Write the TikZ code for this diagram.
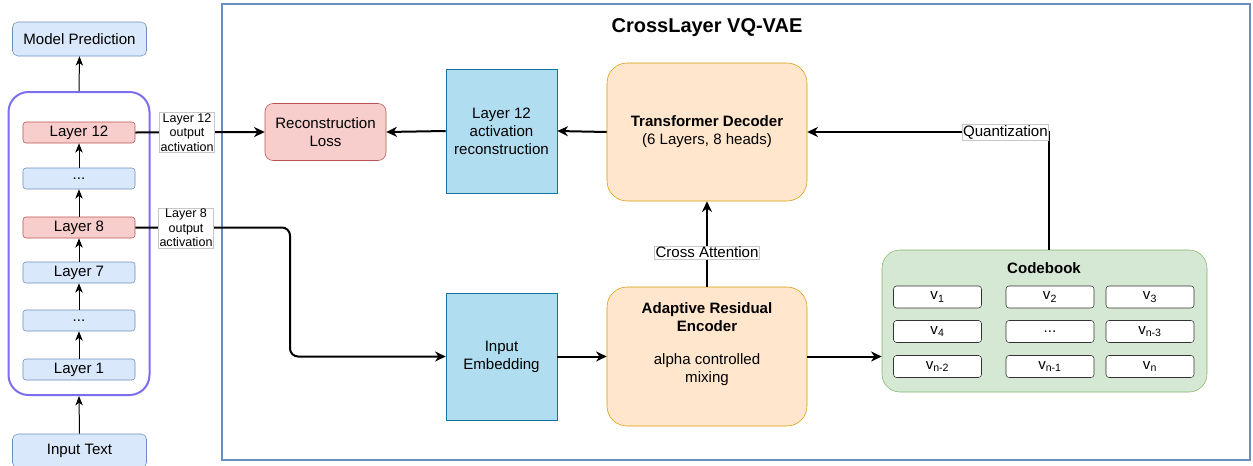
\documentclass[tikz,border=0pt]{standalone}
\usepackage{fontspec}
\setmainfont{Liberation Sans}
\usetikzlibrary{arrows.meta}

\definecolor{bluefill}{HTML}{DAE8FC}
\definecolor{blueline}{HTML}{6C8EBF}
\definecolor{redfill}{HTML}{F8CECC}
\definecolor{redline}{HTML}{B85450}
\definecolor{cyanfill}{HTML}{B1DDF0}
\definecolor{cyanline}{HTML}{10739E}
\definecolor{orangefill}{HTML}{FFE6CC}
\definecolor{orangeline}{HTML}{D79B00}
\definecolor{greenfill}{HTML}{D5E8D4}
\definecolor{greenline}{HTML}{82B366}
\definecolor{stackline}{HTML}{7B6FF0}

\begin{document}
\begin{tikzpicture}[x=0.75pt, y=-0.75pt, font=\fontsize{11.3}{13.5}\selectfont]

	\tikzstyle{layer}=[draw=blueline, fill=bluefill, rounded corners=2.25pt, minimum width=84pt, minimum height=15.75pt, inner sep=0pt]
	\tikzstyle{hot}=[layer, draw=redline, fill=redfill]
	\tikzstyle{io}=[layer, minimum width=100.5pt, minimum height=25.5pt, rounded corners=4pt]
	\tikzstyle{block}=[draw=cyanline, fill=cyanfill, align=center, inner sep=0pt, minimum width=83.25pt]
	\tikzstyle{core}=[draw=orangeline, fill=orangefill, rounded corners=15pt, inner sep=0pt, minimum width=150pt]
	\tikzstyle{cell}=[draw=black!80, fill=white, rounded corners=2.25pt, minimum width=66pt, minimum height=16.5pt, inner sep=0pt]
	\tikzstyle{tag}=[draw=black!22, fill=white, align=center, inner sep=0.8pt, line width=0.4pt]
	\tikzstyle{small}=[tag, font=\fontsize{9.4}{10.9}\selectfont]
	\tikzstyle{flow}=[-{Stealth[length=8pt, width=7.5pt, inset=2.5pt]}, line width=1.5pt]
	\tikzstyle{lift}=[-{Stealth[length=7pt, width=5.5pt, inset=2pt]}, line width=0.75pt]

	\useasboundingbox (0,0) rectangle (1253,465);

	\coordinate (vqvae) at (736, 232);
	\coordinate (title) at (707, 28);

	\coordinate (mp) at (79.5, 39); % LLM SIDE
	\coordinate (stack) at (79, 243.5); % LLM SIDE
	\coordinate (it) at (79.5, 451); % LLM SIDE
	\coordinate (l_12) at (79, 132.5); % LAYERS
	\coordinate (l_d2) at (79, 178.5); % LAYERS
	\coordinate (l_8) at (79, 227.5); % LAYERS
	\coordinate (l_7) at (79, 272.5); % LAYERS
	\coordinate (l_d1) at (79, 320.5); % LAYERS
	\coordinate (l_1) at (79, 369.5); % LAYERS

	\coordinate (rec) at (325.5, 132); % DECODER PATH
	\coordinate (l12_rec) at (501.5, 131); % DECODER PATH
	\coordinate (dec) at (707, 132); % DECODER PATH
	\coordinate (emb) at (501.5, 356.5); % ENCODER PATH
	\coordinate (enc) at (707, 356.5); % ENCODER PATH
	\coordinate (cb) at (1044.5, 321); % CODEBOOK
	\coordinate (cb_title) at (1044, 268); % CODEBOOK
	\coordinate (turn) at (290, 300);
	\coordinate (q_turn) at (1049, 132);

	\node[draw=blueline, line width=1pt, minimum width=771pt, minimum height=342pt, inner sep=0pt] (vqvae) at (vqvae) {};
	\node[font=\fontsize{15}{17}\selectfont\bfseries] (title) at (title) {CrossLayer VQ-VAE};

	\node[io] (mp) at (mp) {Model Prediction};
	\node[draw=stackline, line width=1.5pt, rounded corners=15pt, minimum width=105.75pt, minimum height=227.25pt] (stack) at (stack) {};
	\node[io] (it) at (it) {Input Text};

	\node[hot] (l_12) at (l_12) {Layer 12}; % LAYERS
	\node[layer] (l_d2) at (l_d2) {...}; % LAYERS
	\node[hot] (l_8) at (l_8) {Layer 8}; % LAYERS
	\node[layer] (l_7) at (l_7) {Layer 7}; % LAYERS
	\node[layer] (l_d1) at (l_d1) {...}; % LAYERS
	\node[layer] (l_1) at (l_1) {Layer 1}; % LAYERS

	\node[draw=redline, fill=redfill, rounded corners=6pt, minimum width=90.75pt, minimum height=42.75pt, align=center, inner sep=0pt] (rec) at (rec) {Reconstruction\\Loss};
	\node[block, minimum height=93pt] (l12_rec) at (l12_rec) {Layer 12\\activation\\reconstruction};
	\node[core, minimum height=103.5pt, align=center] (dec) at (dec) {\textbf{Transformer Decoder}\\(6 Layers, 8 heads)};
	\node[block, minimum height=95.25pt] (emb) at (emb) {Input\\Embedding};
	\node[core, minimum height=104.25pt] (enc) at (enc) {};
	\node[align=center] (enc_text) at ([yshift=9.5pt]enc.center) {\textbf{Adaptive Residual}\\\textbf{Encoder}\\[11pt]alpha controlled\\mixing};

	\node[draw=greenline, fill=greenfill, rounded corners=13.5pt, minimum width=243.75pt, minimum height=106.5pt] (cb) at (cb) {};
	\node[font=\fontsize{11.3}{13.5}\selectfont\bfseries] (cb_title) at (cb_title) {Codebook};
	\node[cell] (v_1) at (937.5, 297) {v\textsubscript{1}}; % CODEBOOK
	\node[cell] (v_2) at (1050, 297) {v\textsubscript{2}}; % CODEBOOK
	\node[cell] (v_3) at (1150, 297) {v\textsubscript{3}}; % CODEBOOK
	\node[cell] (v_4) at (937.5, 331.5) {v\textsubscript{4}}; % CODEBOOK
	\node[cell] (v_dots) at (1050, 331.5) {...}; % CODEBOOK
	\node[cell] (v_n3) at (1150, 331.5) {v\textsubscript{n-3}}; % CODEBOOK
	\node[cell] (v_n2) at (937.5, 366.5) {v\textsubscript{n-2}}; % CODEBOOK
	\node[cell] (v_n1) at (1050, 366.5) {v\textsubscript{n-1}}; % CODEBOOK
	\node[cell] (v_n) at (1150, 366.5) {v\textsubscript{n}}; % CODEBOOK

	\draw[lift] (l_1) -- (l_d1);
	\draw[lift] (l_d1) -- (l_7);
	\draw[lift] (l_7) -- (l_8);
	\draw[lift] (l_8) -- (l_d2);
	\draw[lift] (l_d2) -- (l_12);
	\draw[lift] (stack.north) -- (mp.south);
	\draw[lift] (it.north) -- (stack.south);

	\draw[flow] (l_12.east) -- node[small, pos=0.4] (tag_12) {Layer 12\\output\\activation} (rec.west);
	\draw[flow, rounded corners=6pt] (l_8.east) -| (turn) |- (emb.west);
	\node[small] (tag_8) at (186, 228) {Layer 8\\output\\activation};

	\draw[flow] (l12_rec.west) -- (rec.east);
	\draw[flow] (dec.west) -- (l12_rec.east);
	\draw[flow] (emb.east) -- (enc.west);
	\draw[flow] (enc.east) -- (enc.east -| cb.west);
	\draw[flow] (enc.north) -- node[tag, pos=0.4] (x_attn) {Cross Attention} (dec.south);
	\draw[flow] (cb.north -| q_turn) -- (q_turn) -- (dec.east);
	\node[tag, anchor=east] (quant) at (q_turn) {Quantization};
\end{tikzpicture}
\end{document}
